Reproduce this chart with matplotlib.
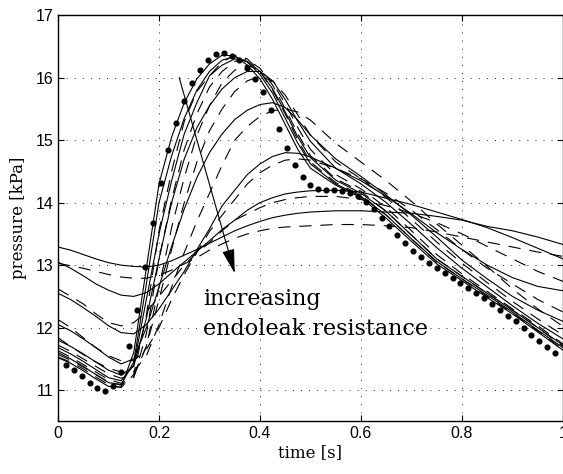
import matplotlib
matplotlib.use("Agg")
import matplotlib.pyplot as plt
import numpy as np

# simulation time grid [s]
t = [0, 0.025, 0.05, 0.075, 0.1, 0.125, 0.15, 0.175, 0.2, 0.225, 0.25, 0.275, 0.3, 0.325,
     0.35, 0.375, 0.4, 0.425, 0.45, 0.475, 0.5, 0.55, 0.6, 0.65, 0.7, 0.75, 0.8, 0.85, 0.9, 0.95, 1.0]

# solid curves, low -> high endoleak resistance [kPa]
solid_r1 = [11.52, 11.43, 11.31, 11.18, 11.06, 11.05, 11.6, 12.95, 14.3, 15.05, 15.6, 15.98, 16.22, 16.36, 16.35, 16.2,
            15.98, 15.65, 15.25, 14.85, 14.55, 14.28, 14.08, 13.75, 13.38, 13.02, 12.75, 12.48, 12.22, 11.93, 11.64]
solid_r2 = [11.6, 11.5, 11.38, 11.25, 11.12, 11.09, 11.45, 12.7, 14.0, 14.75, 15.35, 15.8, 16.1, 16.28, 16.34, 16.25,
            16.05, 15.75, 15.35, 14.95, 14.62, 14.3, 14.1, 13.8, 13.42, 13.06, 12.78, 12.52, 12.25, 11.96, 11.68]
solid_r3 = [11.68, 11.58, 11.46, 11.33, 11.2, 11.15, 11.4, 12.45, 13.5, 14.35, 15.1, 15.6, 16.03, 16.2, 16.3, 16.26,
            16.1, 15.82, 15.45, 15.05, 14.72, 14.36, 14.15, 13.86, 13.48, 13.1, 12.82, 12.55, 12.28, 12.0, 11.72]
solid_r4 = [11.8, 11.7, 11.58, 11.45, 11.32, 11.24, 11.38, 12.15, 13.1, 14.0, 14.7, 15.2, 15.55, 15.82, 16.0, 16.1,
            16.1, 15.95, 15.65, 15.3, 14.98, 14.55, 14.3, 14.0, 13.65, 13.28, 12.95, 12.65, 12.35, 12.07, 11.82]
solid_r5 = [12.05, 11.95, 11.82, 11.68, 11.53, 11.42, 11.5, 12.0, 12.65, 13.3, 13.9, 14.4, 14.8, 15.1, 15.33, 15.48,
            15.57, 15.6, 15.52, 15.32, 15.08, 14.7, 14.42, 14.12, 13.8, 13.45, 13.08, 12.78, 12.5, 12.28, 12.1]
solid_r6 = [12.55, 12.45, 12.32, 12.18, 12.03, 11.92, 11.9, 12.05, 12.3, 12.6, 12.9, 13.25, 13.58, 13.95, 14.2, 14.45,
            14.62, 14.74, 14.8, 14.79, 14.73, 14.55, 14.35, 14.1, 13.82, 13.52, 13.25, 13.0, 12.8, 12.66, 12.59]
solid_r7 = [13.05, 12.95, 12.83, 12.7, 12.6, 12.52, 12.5, 12.56, 12.7, 12.88, 13.05, 13.22, 13.39, 13.57, 13.72, 13.88,
            14.0, 14.08, 14.14, 14.17, 14.19, 14.2, 14.17, 14.07, 13.97, 13.85, 13.73, 13.6, 13.44, 13.27, 13.1]
solid_r8 = [13.29, 13.24, 13.17, 13.1, 13.04, 13.0, 12.98, 12.97, 13.0, 13.07, 13.16, 13.25, 13.35, 13.45, 13.55, 13.63,
            13.7, 13.76, 13.8, 13.83, 13.85, 13.87, 13.87, 13.85, 13.83, 13.78, 13.72, 13.62, 13.55, 13.45, 13.33]

# dashed curves, low -> high endoleak resistance [kPa]
dashed_r1 = [11.53, 11.45, 11.34, 11.21, 11.09, 11.04, 11.25, 12.2, 13.55, 14.5, 15.3, 15.78, 16.03, 16.25, 16.36, 16.3,
             16.1, 15.8, 15.42, 15.0, 14.65, 14.32, 14.12, 13.8, 13.42, 13.05, 12.78, 12.5, 12.23, 11.95, 11.65]
dashed_r2 = [11.57, 11.48, 11.37, 11.25, 11.13, 11.08, 11.2, 11.9, 13.1, 14.05, 14.85, 15.42, 15.85, 16.1, 16.26, 16.29,
             16.15, 15.88, 15.5, 15.1, 14.75, 14.38, 14.18, 13.86, 13.48, 13.1, 12.82, 12.55, 12.28, 12.0, 11.7]
dashed_r3 = [11.63, 11.53, 11.41, 11.29, 11.17, 11.11, 11.22, 11.7, 12.65, 13.6, 14.4, 15.08, 15.55, 15.92, 16.12, 16.2,
             16.12, 15.92, 15.58, 15.2, 14.85, 14.45, 14.22, 13.92, 13.55, 13.17, 12.86, 12.58, 12.3, 12.03, 11.74]
dashed_r4 = [11.72, 11.62, 11.5, 11.38, 11.26, 11.19, 11.25, 11.7, 12.45, 13.25, 14.0, 14.65, 15.15, 15.5, 15.78, 15.95,
             16.02, 15.95, 15.72, 15.4, 15.08, 14.65, 14.38, 14.08, 13.73, 13.37, 13.03, 12.72, 12.42, 12.14, 11.88]
dashed_r5 = [11.84, 11.7, 11.57, 11.45, 11.35, 11.29, 11.3, 11.55, 12.05, 12.65, 13.2, 13.7, 14.15, 14.6, 15.0, 15.22,
             15.38, 15.47, 15.5, 15.45, 15.32, 14.95, 14.65, 14.35, 14.02, 13.66, 13.32, 12.98, 12.62, 12.3, 12.02]
dashed_r6 = [12.13, 12.0, 11.84, 11.68, 11.55, 11.47, 11.47, 11.65, 12.0, 12.45, 12.85, 13.2, 13.54, 13.8, 14.05, 14.3,
             14.48, 14.6, 14.68, 14.7, 14.68, 14.55, 14.38, 14.15, 13.88, 13.57, 13.25, 12.95, 12.7, 12.45, 12.25]
dashed_r7 = [12.62, 12.5, 12.38, 12.22, 12.08, 12.03, 12.08, 12.25, 12.5, 12.75, 13.0, 13.2, 13.36, 13.55, 13.72, 13.82,
             13.92, 14.0, 14.05, 14.08, 14.1, 14.1, 14.05, 13.95, 13.83, 13.68, 13.5, 13.3, 13.1, 12.9, 12.74]
dashed_r8 = [13.03, 12.99, 12.95, 12.9, 12.85, 12.81, 12.79, 12.79, 12.84, 12.92, 13.02, 13.12, 13.24, 13.34, 13.43, 13.5,
             13.55, 13.59, 13.61, 13.62, 13.63, 13.65, 13.65, 13.63, 13.6, 13.53, 13.45, 13.37, 13.29, 13.21, 13.14]

# measured pressure, sampled at 64 points per cycle
measured = [11.41, 11.32, 11.22, 11.12, 11.04, 10.99, 11.06, 11.29, 11.70, 12.29, 12.97, 13.68, 14.32, 14.85, 15.28,
            15.63, 15.91, 16.13, 16.29, 16.38, 16.40, 16.35, 16.28, 16.15, 15.98, 15.77, 15.49, 15.18, 14.88, 14.60,
            14.41, 14.28, 14.22, 14.20, 14.20, 14.18, 14.16, 14.11, 14.01, 13.90, 13.76, 13.62, 13.49, 13.35, 13.23,
            13.13, 13.03, 12.95, 12.87, 12.79, 12.72, 12.64, 12.56, 12.47, 12.38, 12.29, 12.19, 12.10, 11.99, 11.89,
            11.79, 11.69, 11.60]
t_measured = np.arange(1, len(measured) + 1) / 64.0

solids = [solid_r1, solid_r2, solid_r3, solid_r4, solid_r5, solid_r6, solid_r7, solid_r8]
dashes = [dashed_r1, dashed_r2, dashed_r3, dashed_r4, dashed_r5, dashed_r6, dashed_r7, dashed_r8]

fig = plt.figure(figsize=(5.63, 4.74), dpi=100)
ax = fig.add_axes([0.103, 0.111, 0.897, 0.857])

for y in solids:
    ax.plot(t, y, color="k", lw=0.8, linestyle="-")
for y in dashes:
    ax.plot(t, y, color="k", lw=0.8, linestyle=(0, (11, 8)))
ax.plot(t_measured, measured, linestyle="none", marker="o", ms=3.4, color="k")

ax.annotate("", xy=(0.35, 12.87), xytext=(0.24, 16.0),
            arrowprops=dict(arrowstyle="-|>,head_length=1.5,head_width=0.38", color="k", lw=0.8,
                            mutation_scale=10, shrinkA=0, shrinkB=0))
ax.text(0.287, 12.64, "increasing\nendoleak resistance", family="DejaVu Serif", fontsize=16,
        va="top", ha="left", linespacing=1.5)

ax.set_xlim(0, 1)
ax.set_ylim(10.5, 17)
ax.set_xticks([0, 0.2, 0.4, 0.6, 0.8, 1])
ax.set_xticklabels(["0", "0.2", "0.4", "0.6", "0.8", "1"])
ax.set_yticks([11, 12, 13, 14, 15, 16, 17])
ax.grid(True, color="k", linestyle=(0, (1.2, 8.5)), lw=0.6)
ax.tick_params(direction="in", top=True, right=True, length=4, width=0.8, labelsize=11.5)
for lab in ax.get_xticklabels() + ax.get_yticklabels():
    lab.set_family("Liberation Sans")
for sp in ax.spines.values():
    sp.set_linewidth(1.0)

ax.set_xlabel("time [s]", family="DejaVu Serif", fontsize=12, labelpad=2)
ax.set_ylabel("pressure [kPa]", family="DejaVu Serif", fontsize=12, labelpad=6)

fig.savefig("out.png", dpi=100)
